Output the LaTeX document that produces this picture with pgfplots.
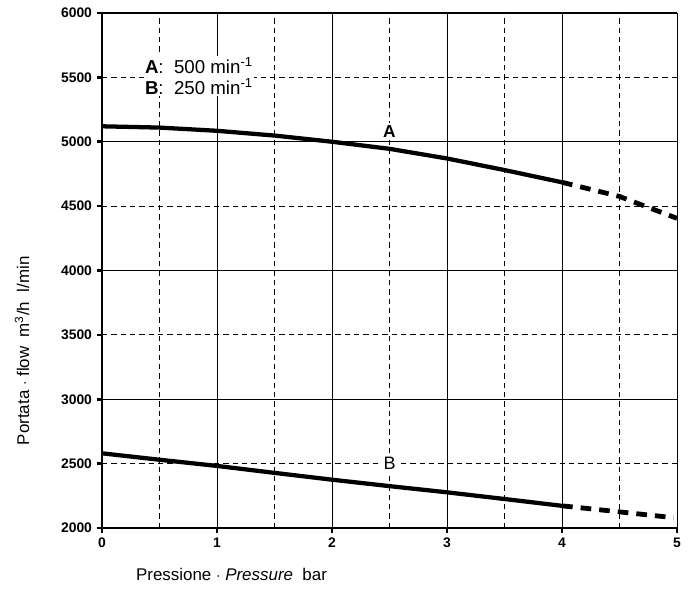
\documentclass[border=0pt]{standalone}
\usepackage{fontspec}
\setmainfont{Liberation Sans}
\usepackage{pgfplots}
\pgfplotsset{compat=1.18}

\begin{document}
\begin{tikzpicture}
\begin{axis}[
  scale only axis, width=431pt, height=386pt,
  xmin=0, xmax=5, ymin=2000, ymax=6000,
  axis lines=left, axis line style={line width=2.2pt, -},
  xtick={0,1,2,3,4,5}, minor xtick={0.5,1.5,2.5,3.5,4.5},
  ytick={2000,2500,3000,3500,4000,4500,5000,5500,6000},
  xmajorgrids, xminorgrids, ymajorgrids,
  major x grid style={black, line width=0.75pt},
  minor x grid style={black, line width=0.8pt, dash pattern=on 4pt off 3pt},
  major y grid style={black, line width=0.8pt, dash pattern=on 4pt off 3pt},
  extra y ticks={3000,4000,5000,6000}, extra y tick labels={},
  extra y tick style={grid=major, major y grid style={black, line width=0.9pt, solid}, major tick length=0pt},
  tick style={black, line width=2pt}, major tick length=4pt, minor tick length=0pt,
  tick align=outside,
  /pgf/number format/assume math mode=true,
  /pgf/number format/1000 sep={},
  tick label style={font=\fontsize{10.4}{12}\selectfont\bfseries},
  xlabel={Pressione $\cdot$ \textit{Pressure}\ \ bar},
  ylabel={Portata $\cdot$ flow\ \ m\textsuperscript{3}/h\ \ l/min},
  label style={font=\fontsize{12.7}{14}\selectfont},
  xlabel style={at={(axis description cs:0,0)}, anchor=north west, xshift=22pt, yshift=-27pt},
  ylabel style={at={(axis description cs:-0.139,0.344)}, anchor=center},
  clip=false,
]
% curve A
\addplot[black, line width=3.2pt] coordinates {
 (0,5120) (0.5,5110) (1,5085) (1.5,5048) (2,5000) (2.5,4945) (3,4870) (3.5,4780) (4,4685)};
\addplot[black, line width=3.6pt, dash pattern=on 8pt off 6pt] coordinates {
 (4,4685) (4.5,4575) (5,4405)};
% curve B
\addplot[black, line width=3.2pt] coordinates {
 (0,2580) (0.5,2530) (1,2482) (1.5,2428) (2,2375) (2.5,2325) (3,2277) (3.5,2225) (4,2172)};
\addplot[black, line width=3.6pt, dash pattern=on 8pt off 6pt] coordinates {
 (4,2172) (4.5,2125) (4.97,2080)};
\node[fill=white, inner sep=1.5pt, font=\fontsize{13}{14}\selectfont\bfseries] at (axis cs:2.5,5080) {A};
\node[fill=white, inner sep=1.5pt, font=\fontsize{13.5}{14}\selectfont] at (axis cs:2.5,2500) {B};
\node[fill=white, inner sep=1pt, anchor=north west, align=left, font=\fontsize{14}{15.5}\selectfont]
  at (axis cs:0.36,5665) {\textbf{A}:\ \ 500 min\textsuperscript{-1}\\\textbf{B}:\ \ 250 min\textsuperscript{-1}};
\path (axis cs:-0.887,6101) -- (axis cs:5.139,1495);
\end{axis}
\end{tikzpicture}
\end{document}
